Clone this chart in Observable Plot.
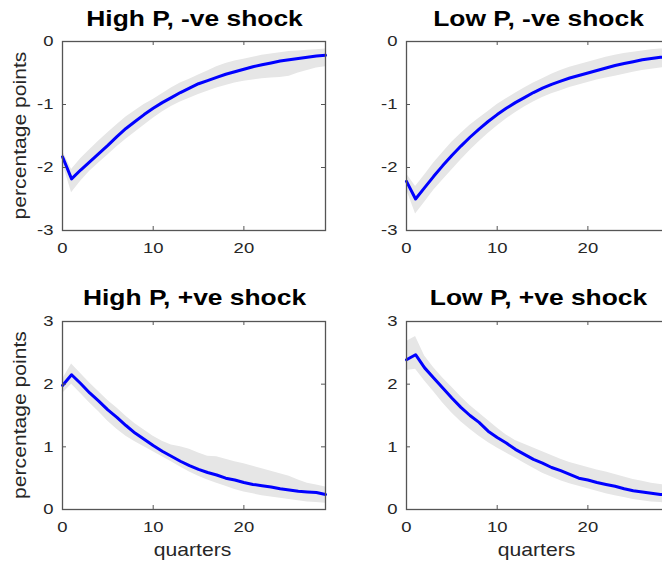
<!DOCTYPE html>
<html><head><meta charset="utf-8">
<script src="https://cdn.jsdelivr.net/npm/d3@7"></script>
<script src="https://cdn.jsdelivr.net/npm/@observablehq/plot@0.6"></script>
<style>
html,body{margin:0;padding:0;background:#fff;}
#chart{position:relative;width:662px;height:565px;overflow:hidden;background:#fff;}
#chart svg{position:absolute;}
</style></head><body><div id="chart"></div>
<script>
// ---- data ----
const quarters = [0,1,2,3,4,5,6,7,8,9,10,11,12,13,14,15,16,17,18,19,20,21,22,23,24,25,26,27,28,29];
const xTicks = [0, 10, 20];
const yTicksNeg = [-3, -2, -1, 0];
const yTicksPos = [0, 1, 2, 3];
const titles = ["High P, -ve shock", "Low P, -ve shock", "High P, +ve shock", "Low P, +ve shock"];
const yLabel = "percentage points";
const xLabel = "quarters";

// High P, -ve shock
const highNegMid = [-1.83,-2.18,-2.04,-1.91,-1.78,-1.65,-1.51,-1.38,-1.27,-1.16,-1.06,-0.97,-0.89,-0.81,-0.74,-0.67,-0.62,-0.57,-0.52,-0.48,-0.44,-0.40,-0.37,-0.34,-0.31,-0.29,-0.27,-0.25,-0.23,-0.22];
const highNegHi  = [-1.74,-2.03,-1.86,-1.72,-1.58,-1.45,-1.32,-1.20,-1.10,-1.00,-0.92,-0.83,-0.74,-0.66,-0.60,-0.53,-0.47,-0.40,-0.35,-0.31,-0.28,-0.25,-0.22,-0.20,-0.18,-0.16,-0.15,-0.14,-0.13,-0.12];
const highNegLo  = [-1.93,-2.40,-2.22,-2.06,-1.93,-1.80,-1.67,-1.55,-1.44,-1.33,-1.22,-1.12,-1.03,-0.96,-0.90,-0.84,-0.79,-0.74,-0.70,-0.66,-0.63,-0.61,-0.59,-0.58,-0.57,-0.55,-0.50,-0.46,-0.42,-0.40];

// Low P, -ve shock
const lowNegMid = [-2.22,-2.50,-2.32,-2.14,-1.97,-1.81,-1.66,-1.52,-1.39,-1.27,-1.16,-1.06,-0.97,-0.89,-0.81,-0.74,-0.68,-0.63,-0.58,-0.54,-0.50,-0.46,-0.42,-0.38,-0.35,-0.32,-0.29,-0.27,-0.25,-0.24];
const lowNegHi  = [-2.10,-2.30,-2.12,-1.93,-1.76,-1.60,-1.46,-1.33,-1.22,-1.11,-1.00,-0.91,-0.82,-0.74,-0.66,-0.59,-0.52,-0.46,-0.41,-0.37,-0.33,-0.29,-0.25,-0.22,-0.19,-0.17,-0.15,-0.13,-0.12,-0.11];
const lowNegLo  = [-2.35,-2.74,-2.55,-2.36,-2.20,-2.04,-1.88,-1.73,-1.59,-1.46,-1.34,-1.23,-1.13,-1.04,-0.96,-0.89,-0.83,-0.78,-0.73,-0.69,-0.65,-0.61,-0.58,-0.55,-0.52,-0.49,-0.46,-0.44,-0.42,-0.40];

// High P, +ve shock
const highPosMid = [1.98,2.15,2.01,1.86,1.73,1.59,1.47,1.34,1.22,1.12,1.02,0.93,0.85,0.77,0.70,0.64,0.59,0.55,0.50,0.47,0.43,0.40,0.38,0.36,0.33,0.31,0.29,0.28,0.27,0.24];
const highPosHi  = [2.08,2.32,2.17,2.02,1.88,1.74,1.62,1.49,1.37,1.27,1.17,1.09,1.03,1.00,0.96,0.90,0.85,0.84,0.80,0.76,0.73,0.69,0.65,0.61,0.57,0.53,0.47,0.42,0.39,0.36];
const highPosLo  = [1.85,2.00,1.85,1.70,1.56,1.41,1.28,1.17,1.08,1.00,0.92,0.84,0.76,0.68,0.60,0.53,0.47,0.42,0.37,0.32,0.28,0.25,0.22,0.20,0.18,0.16,0.14,0.12,0.11,0.10];

// Low P, +ve shock
const lowPosMid = [2.39,2.47,2.26,2.10,1.94,1.78,1.63,1.50,1.39,1.25,1.15,1.06,0.96,0.88,0.80,0.74,0.67,0.62,0.56,0.50,0.47,0.43,0.40,0.37,0.33,0.30,0.28,0.26,0.24,0.23];
const lowPosHi  = [2.68,2.76,2.45,2.26,2.10,1.95,1.80,1.66,1.54,1.42,1.30,1.19,1.10,1.04,0.98,0.92,0.86,0.80,0.75,0.71,0.67,0.63,0.60,0.56,0.52,0.48,0.45,0.42,0.40,0.38];
const lowPosLo  = [2.22,2.24,2.05,1.88,1.70,1.54,1.40,1.28,1.17,1.07,0.98,0.90,0.82,0.74,0.66,0.58,0.52,0.46,0.41,0.37,0.33,0.29,0.25,0.22,0.19,0.16,0.14,0.12,0.11,0.10];

// ---- layout ----
const FONT = "'Liberation Sans', Arial, Helvetica, sans-serif";
const SX = 1.2;           // horizontal stretch of the reference's text
const W = 345, ML = 62, FW = 263, MT = 41;
const TEXT = "#262626";

const panels = [
  {title: titles[0], mid: highNegMid, lo: highNegLo, hi: highNegHi, yDomain: [-3, 0], yTicks: yTicksNeg, left: 0,   top: 0,   height: 280, fh: 189, xl: false},
  {title: titles[1], mid: lowNegMid,  lo: lowNegLo,  hi: lowNegHi,  yDomain: [-3, 0], yTicks: yTicksNeg, left: 344, top: 0,   height: 280, fh: 189, xl: false},
  {title: titles[2], mid: highPosMid, lo: highPosLo, hi: highPosHi, yDomain: [0, 3],  yTicks: yTicksPos, left: 0,   top: 280, height: 285, fh: 188, xl: true},
  {title: titles[3], mid: lowPosMid,  lo: lowPosLo,  hi: lowPosHi,  yDomain: [0, 3],  yTicks: yTicksPos, left: 344, top: 280, height: 285, fh: 188, xl: true}
];

const chart = document.getElementById("chart");

for (const p of panels) {
  const rows = quarters.map((q, i) => ({q, mid: p.mid[i], lo: p.lo[i], hi: p.hi[i]}));
  const mb = p.height - MT - p.fh;
  const svg = Plot.plot({
    width: W, height: p.height,
    marginLeft: ML, marginRight: W - ML - FW, marginTop: MT, marginBottom: mb,
    style: {fontFamily: FONT, fontSize: "15.4px", color: TEXT, background: "transparent", overflow: "visible"},
    x: {domain: [0, 29], label: null},
    y: {domain: p.yDomain, label: null},
    marks: [
      Plot.areaY(rows, {x: "q", y1: "lo", y2: "hi", fill: "#e6e6e6", curve: "linear"}),
      Plot.lineY(rows, {x: "q", y: "mid", stroke: "#0000ff", strokeWidth: 3, curve: "linear"}),
      Plot.frame({stroke: "#555", strokeWidth: 1.3}),
      Plot.tickX(xTicks, {x: d => d, insetTop: p.fh - 4, stroke: "#555"}),
      Plot.tickX(xTicks, {x: d => d, insetBottom: p.fh - 4, stroke: "#555"}),
      Plot.tickY(p.yTicks, {y: d => d, insetRight: FW - 4, stroke: "#555"}),
      Plot.tickY(p.yTicks, {y: d => d, insetLeft: FW - 4, stroke: "#555"}),
      Plot.axisX({ticks: xTicks, tickSize: 0, tickPadding: 11.5, tickFormat: d => String(d), label: null}),
      Plot.axisY({ticks: p.yTicks, tickSize: 0, tickPadding: 9, tickFormat: d => String(d), label: null})
    ]
  });
  svg.style.left = p.left + "px";
  svg.style.top = p.top + "px";

  // stretch tick labels horizontally like the reference
  svg.querySelectorAll('g[aria-label="x-axis tick label"] text, g[aria-label="y-axis tick label"] text').forEach(t => {
    t.setAttribute("transform", (t.getAttribute("transform") || "") + ` scale(${SX},1)`);
  });

  const s = d3.select(svg);
  const cx = ML + FW / 2;
  // title
  s.append("text")
    .attr("transform", `translate(${cx + 1},${p.top ? 24.5 : 25.5}) scale(${SX},1)`)
    .attr("text-anchor", "middle")
    .attr("font-family", FONT).attr("font-weight", "bold").attr("font-size", "22px")
    .attr("fill", "#000")
    .text(p.title);
  // y label (left column only)
  if (p.left === 0) {
    s.append("text")
      .attr("transform", `translate(26,${MT + p.fh / 2}) rotate(-90) scale(${SX},1)`)
      .attr("text-anchor", "middle")
      .attr("font-family", FONT).attr("font-size", "17.6px")
      .attr("fill", TEXT)
      .text(yLabel);
  }
  // x label (bottom row only)
  if (p.xl) {
    s.append("text")
      .attr("transform", `translate(${cx - 1},${MT + p.fh + 47}) scale(${SX},1)`)
      .attr("text-anchor", "middle")
      .attr("font-family", FONT).attr("font-size", "17.6px")
      .attr("fill", TEXT)
      .text(xLabel);
  }
  chart.appendChild(svg);
}
</script>
</body></html>
